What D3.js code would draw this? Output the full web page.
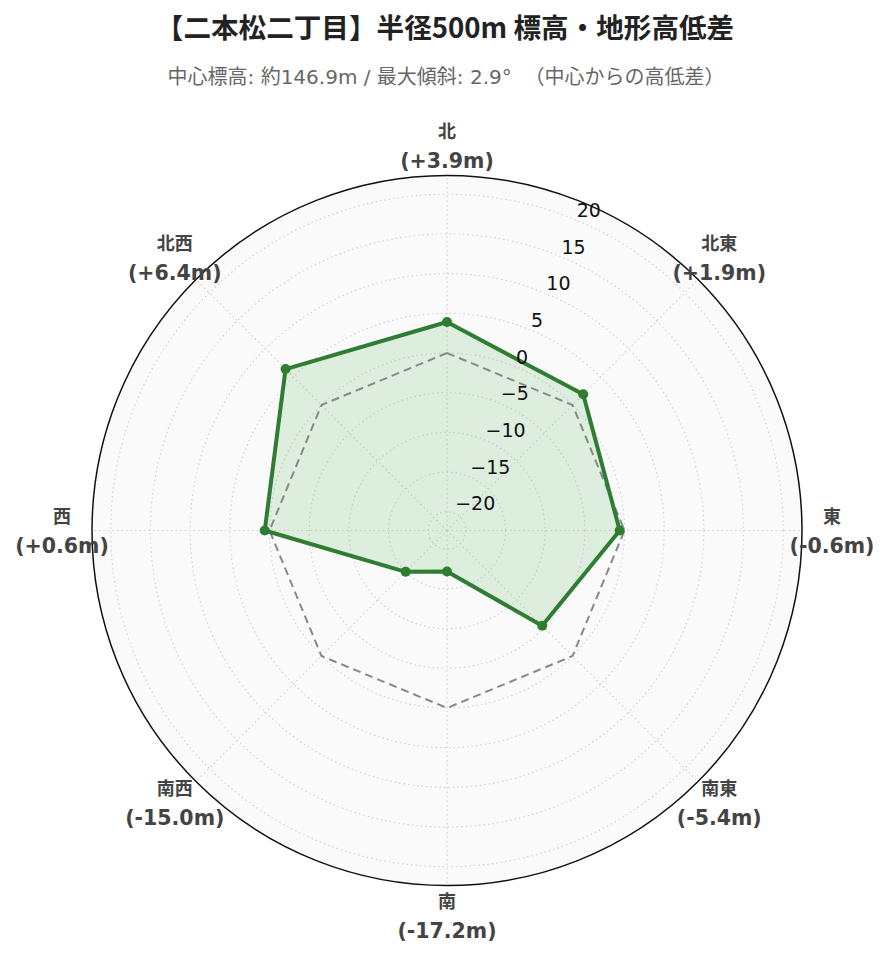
<!DOCTYPE html>
<html><head><meta charset="utf-8">
<script src="https://cdn.jsdelivr.net/npm/d3@7"></script>
<style>
html,body{margin:0;padding:0;background:#fff;}
</style>
</head><body>
<svg id="chart" width="889" height="962"></svg>
<script>
const directions = ["北","北東","東","南東","南","南西","西","北西"];
const diffs = [3.9, 1.9, -0.6, -5.4, -17.2, -15.0, 0.6, 6.4];
const zeroLine = [0, 0, 0, 0, 0, 0, 0, 0];
const diffLabels = ["(+3.9m)","(+1.9m)","(-0.6m)","(-5.4m)","(-17.2m)","(-15.0m)","(+0.6m)","(+6.4m)"];
const radialTicks = [-20, -15, -10, -5, 0, 5, 10, 15, 20];
const titleText = "【二本松二丁目】半径500m 標高・地形高低差";
const subtitleText = "中心標高: 約146.9m / 最大傾斜: 2.9°  （中心からの高低差）";

const W = 889, H = 962;
const cx = 447, cy = 530.5, R = 355;
const rMax = d3.max(diffs, d => Math.abs(d)) * 1.3;

const svg = d3.select("#chart");
const r = d3.scaleLinear().domain([-rMax, rMax]).range([0, R]);
const ang = d3.scalePoint().domain(directions).range([0, 360 * (directions.length - 1) / directions.length]);
const pt = (deg, rad) => {
  const a = deg * Math.PI / 180;
  return [cx + rad * Math.sin(a), cy - rad * Math.cos(a)];
};

// title
svg.append("text").attr("x", 445).attr("y", 38).attr("text-anchor", "middle")
  .style("font-family", "'Noto Sans CJK JP', 'DejaVu Sans', sans-serif")
  .style("font-weight", "bold").style("font-size", "27.6px").attr("fill", "#222")
  .text(titleText);
svg.append("text").attr("x", 446).attr("y", 84).attr("text-anchor", "middle")
  .style("font-family", "'DejaVu Sans', 'Noto Sans CJK JP', sans-serif")
  .style("font-size", "20px").attr("fill", "#666")
  .style("white-space", "pre").attr("xml:space", "preserve")
  .text(subtitleText);

const g = svg.append("g");
// background
g.append("circle").attr("cx", cx).attr("cy", cy).attr("r", R).attr("fill", "#fafafa");
// grid circles
g.selectAll(".gc").data(radialTicks).join("circle")
  .attr("cx", cx).attr("cy", cy).attr("r", d => r(d))
  .attr("fill", "none").attr("stroke", "#d4d4d4").attr("stroke-width", 1.2)
  .attr("stroke-dasharray", "1.5,3");
// angular grid
g.selectAll(".ag").data(directions).join("line")
  .attr("x1", cx).attr("y1", cy)
  .attr("x2", d => pt(ang(d), R)[0]).attr("y2", d => pt(ang(d), R)[1])
  .attr("stroke", "#d4d4d4").attr("stroke-width", 1.2).attr("stroke-dasharray", "1.5,3");

// fill polygon
const poly = vals => vals.map((v, i) => pt(ang(directions[i]), r(v)));
const lineGen = d3.line().curve(d3.curveLinearClosed);
g.append("path").attr("d", lineGen(poly(diffs)))
  .attr("fill", "rgba(76,175,80,0.16)").attr("stroke", "none");
// zero dashed
g.append("path").attr("d", lineGen(poly(zeroLine)))
  .attr("fill", "none").attr("stroke", "#888").attr("stroke-width", 2).attr("stroke-dasharray", "8,5");
// data line
g.append("path").attr("d", lineGen(poly(diffs)))
  .attr("fill", "none").attr("stroke", "#2e7d32").attr("stroke-width", 4).attr("stroke-linejoin", "round");
g.selectAll(".mk").data(diffs).join("circle")
  .attr("cx", (d, i) => pt(ang(directions[i]), r(d))[0])
  .attr("cy", (d, i) => pt(ang(directions[i]), r(d))[1])
  .attr("r", 5).attr("fill", "#2e7d32");

// outer circle
g.append("circle").attr("cx", cx).attr("cy", cy).attr("r", R)
  .attr("fill", "none").attr("stroke", "#111").attr("stroke-width", 1.5);

// radial tick labels
const axisAngle = 22.5;
g.selectAll(".rt").data(radialTicks).join("text")
  .attr("x", d => pt(axisAngle, r(d))[0] + 1)
  .attr("y", d => pt(axisAngle, r(d))[1] - 3)
  .attr("text-anchor", "start")
  .style("font-family", "'DejaVu Sans', sans-serif").style("font-size", "19px").attr("fill", "#111")
  .text(d => d < 0 ? "\u2212" + Math.abs(d) : String(d));

// angular labels
const lab = g.selectAll(".al").data(directions).join("g")
  .attr("transform", d => { const p = pt(ang(d), R + 30); return `translate(${p[0]},${p[1]})`; });
lab.append("text").attr("y", -8).attr("text-anchor", "middle")
  .style("font-family", "'Noto Sans CJK JP', 'DejaVu Sans', sans-serif")
  .style("font-weight", "bold").style("font-size", "18px").attr("fill", "#444")
  .text(d => d);
lab.append("text").attr("y", 22).attr("text-anchor", "middle")
  .style("font-family", "'DejaVu Sans', 'Noto Sans CJK JP', sans-serif")
  .style("font-weight", "bold").style("font-size", "20.5px").attr("fill", "#444")
  .text((d, i) => diffLabels[i]);
</script>
</body></html>
